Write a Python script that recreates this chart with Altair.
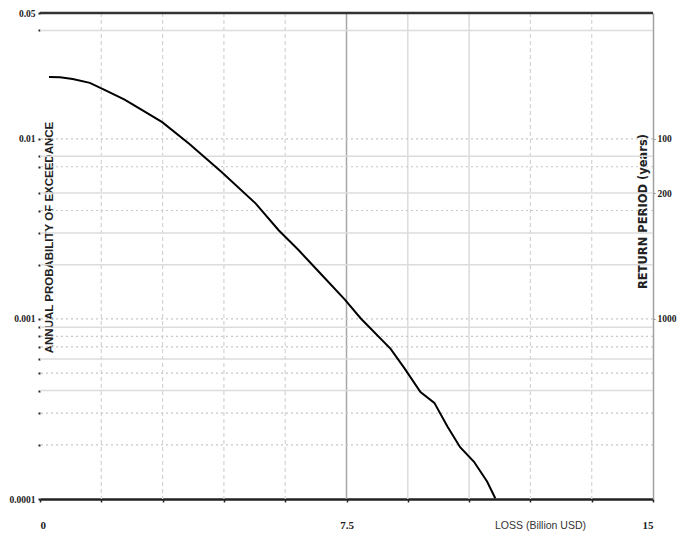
import altair as alt
import pandas as pd

# curve
loss = [0.22, 0.49, 0.80, 1.22, 1.63, 2.07, 2.43, 2.99, 3.65, 4.45, 5.28, 5.84, 6.32,
        6.88, 7.46, 7.85, 8.58, 8.92, 9.31, 9.65, 9.97, 10.28, 10.62, 10.94, 11.14]
prob = [0.02203, 0.0220, 0.02148, 0.02046, 0.01849, 0.01652, 0.01476, 0.01238, 0.00939,
        0.00653, 0.00437, 0.00311, 0.00242, 0.00177, 0.00128, 0.001006, 0.000682,
        0.000531, 0.000393, 0.000342, 0.000253, 0.000194, 0.000161, 0.000125, 0.000101]

y_major = [0.05, 0.01, 0.001, 0.0001]
grid_solid = [0.04, 0.008, 0.005, 0.003, 0.002, 0.0009, 0.0006, 0.0004]
grid_dotted = [0.01, 0.007, 0.004, 0.001, 0.0008, 0.0007, 0.0005, 0.0003, 0.0002]
x_grid_dashed = [1.5, 3, 4.5, 6, 12, 13.5]
x_grid_light = [9, 10.5]
x_grid_main = [7.5]
x_ticks = [0, 1.5, 3, 4.5, 6, 7.5, 9, 10.5, 12, 13.5, 15]
x_labels = [0, 7.5, 15]
return_periods = [100, 200, 1000]
top_line = [0.05]

curve = pd.DataFrame({"loss": loss, "prob": prob})
ydom = [0.0001, 0.05]
xdom = [0, 15]


def yscale():
    return alt.Scale(type="log", domain=ydom, nice=False)


xscale = alt.Scale(domain=xdom, nice=False, zero=False)

xaxis = alt.Axis(values=x_ticks, grid=False,
                 labelExpr="indexof(" + str(x_labels) + ", datum.value) >= 0 ? format(datum.value, '~g') : ''",
                 domainColor="#222222", domainWidth=2.5,
                 tickColor="#222222", tickSize=3, tickWidth=1.5,
                 labelPadding=17, labelFont="Liberation Serif",
                 labelFontSize=11, labelFontWeight="bold", labelColor="#222222",
                 title="LOSS (Billion USD)", titleFont="Liberation Sans",
                 titleFontSize=10.5, titleFontWeight="normal", titleColor="#333333",
                 titleX=500, titleY=26, titleBaseline="middle", titleAnchor="middle")


def hrules(vals, color, dash=None, width=1):
    df = pd.DataFrame({"v": vals})
    kw = dict(color=color, strokeWidth=width)
    if dash:
        kw["strokeDash"] = dash
    return alt.Chart(df).mark_rule(**kw).encode(
        y=alt.Y("v:Q", scale=yscale(), axis=None))


def vrules(vals, color, dash=None, width=1):
    df = pd.DataFrame({"v": vals})
    kw = dict(color=color, strokeWidth=width)
    if dash:
        kw["strokeDash"] = dash
    return alt.Chart(df).mark_rule(**kw).encode(
        x=alt.X("v:Q", scale=xscale, axis=xaxis))


v1 = vrules(x_grid_dashed, "#d4d4d4", dash=[4, 3], width=1.2)
v2 = vrules(x_grid_light, "#dcdcdc", width=1.5)
v3 = vrules(x_grid_main, "#a8a8a8", width=1.5)
g1 = hrules(grid_solid, "#dcdcdc", width=1.5)
g2 = hrules(grid_dotted, "#c8c8c8", dash=[2, 3], width=1.2)
top = hrules(top_line, "#333333", width=2.5)

left_vals = sorted(set(y_major + grid_solid + grid_dotted), reverse=True)

line = alt.Chart(curve).mark_line(color="black", strokeWidth=2).encode(
    x=alt.X("loss:Q", scale=xscale, axis=xaxis),
    y=alt.Y("prob:Q", scale=yscale(),
            axis=alt.Axis(orient="left", values=left_vals, grid=False, domain=False,
                          labelExpr="indexof(['0.05','0.01','0.001','0.0001'], format(datum.value, '~g')) >= 0 ? format(datum.value, '~g') : ''",
                          tickColor="#222222", tickSize=2, tickWidth=2,
                          labelPadding=3, labelFont="Liberation Serif", labelFontSize=9.5,
                          labelFontWeight="bold", labelColor="#222222",
                          title="ANNUAL PROBABILITY OF EXCEEDANCE", titleFont="Liberation Sans",
                          titleFontSize=11.5, titleFontWeight="bold", titleColor="#222222",
                          titleAngle=270, titleX=14, titleY=224, titleBaseline="bottom",
                          titleAnchor="middle")),
)

rp_df = pd.DataFrame({"rp": return_periods})
right = alt.Chart(rp_df).transform_calculate(p="1 / datum.rp").mark_rule(opacity=0).encode(
    y=alt.Y("p:Q", scale=yscale(),
            axis=alt.Axis(orient="right", values=[1.0 / r for r in return_periods], grid=False,
                          labelExpr="format(round(1 / datum.value), 'd')",
                          domainColor="#a0a0a0", domainWidth=1.5,
                          tickColor="#888888", tickSize=2, labelPadding=2,
                          labelFont="Liberation Serif", labelFontSize=9.5,
                          labelFontWeight="bold", labelColor="#222222",
                          title="RETURN PERIOD (years)", titleFont="DejaVu Sans",
                          titleFontSize=11.5, titleFontWeight="bold", titleColor="#222222",
                          titleAngle=270, titleX=-5, titleY=198, titleBaseline="bottom",
                          titleAnchor="middle")),
)

chart = alt.layer(v1, v2, v3, g1, g2, top, line, right).resolve_scale(
    y="independent"
).properties(
    width=613, height=486,
    autosize=alt.AutoSizeParams(type="none"),
    padding={"left": 32, "top": 5, "right": 24, "bottom": 34},
    background="white",
).configure_view(stroke=None)

chart.save("out.html", embed_options={"renderer": "svg", "actions": False})
